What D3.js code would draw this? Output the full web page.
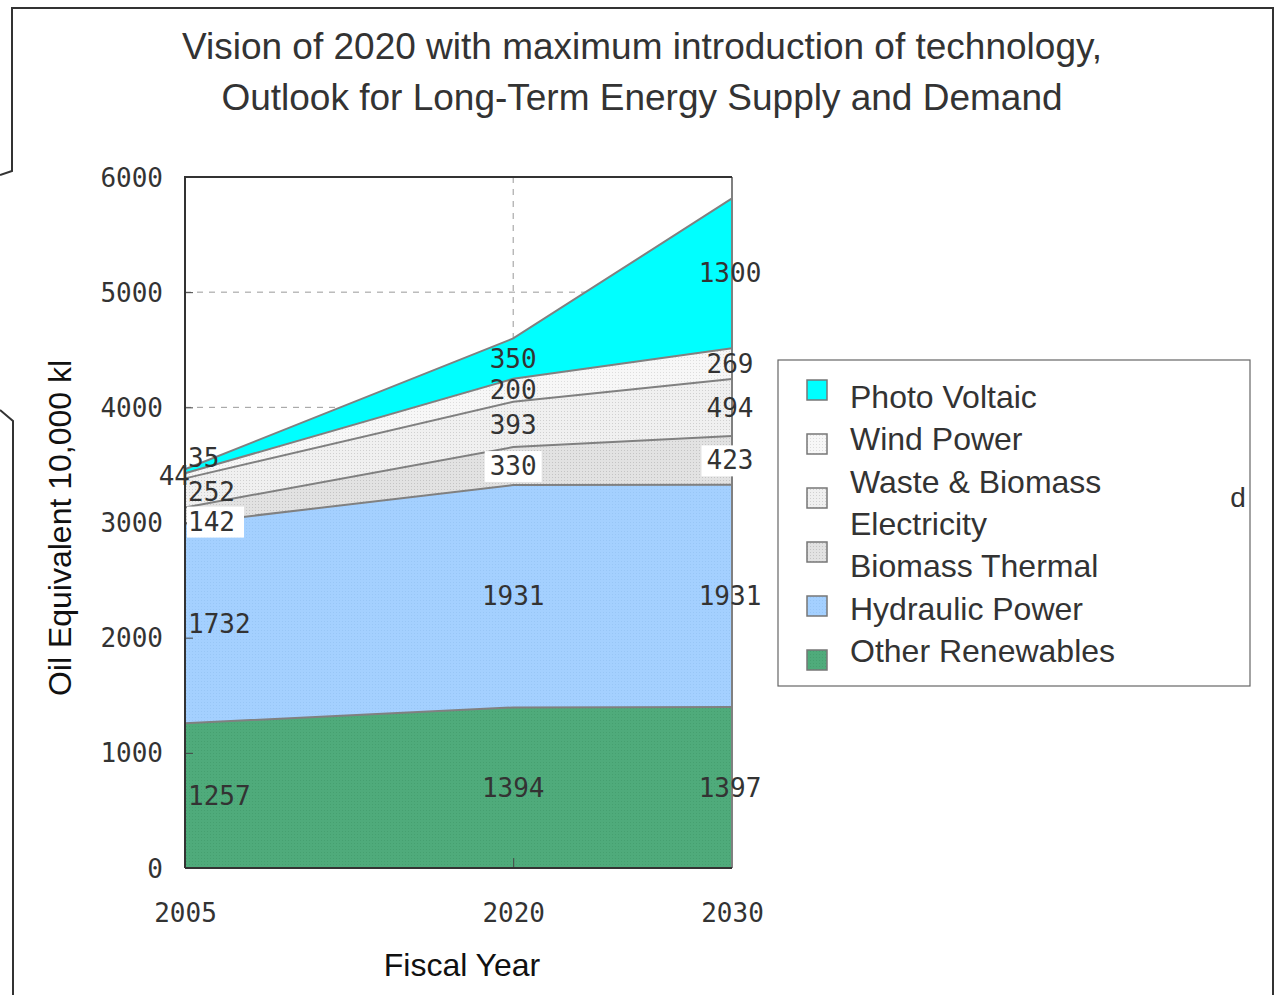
<!DOCTYPE html>
<html>
<head>
<meta charset="utf-8">
<script src="https://cdn.jsdelivr.net/npm/d3@7"></script>
<style>
  body { margin: 0; background: #fff; }
  svg { display: block; }
</style>
</head>
<body>
<svg id="chart" width="1276" height="995"></svg>
<script>
const years = [2005, 2020, 2030];
const seriesNames = ['Other Renewables', 'Hydraulic Power', 'Biomass Thermal', 'Waste & Biomass Electricity', 'Wind Power', 'Photo Voltaic'];
const otherRenewables = [1257, 1394, 1397];
const hydraulicPower = [1732, 1931, 1931];
const biomassThermal = [142, 330, 423];
const wasteBiomass = [252, 393, 494];
const windPower = [44, 200, 269];
const photoVoltaic = [35, 350, 1300];
const yTicks = [0, 1000, 2000, 3000, 4000, 5000, 6000];
const legendOrder = ['Photo Voltaic', 'Wind Power', 'Waste & Biomass Electricity', 'Biomass Thermal', 'Hydraulic Power', 'Other Renewables'];

const valuesByName = {
  'Other Renewables': otherRenewables,
  'Hydraulic Power': hydraulicPower,
  'Biomass Thermal': biomassThermal,
  'Waste & Biomass Electricity': wasteBiomass,
  'Wind Power': windPower,
  'Photo Voltaic': photoVoltaic,
};

const table = years.map((year, i) => {
  const row = { year };
  for (const name of seriesNames) row[name] = valuesByName[name][i];
  return row;
});

const svg = d3.select('#chart');
const defs = svg.append('defs');
const digitFont = '"DejaVu Sans Mono", monospace';
const textFont = '"Liberation Sans", Arial, sans-serif';

// dotted fills, roughly like the stippled areas of the original
function dotPattern(id, bg, dot) {
  const p = defs.append('pattern').attr('id', id)
    .attr('width', 3).attr('height', 3).attr('patternUnits', 'userSpaceOnUse');
  p.append('rect').attr('width', 3).attr('height', 3).attr('fill', bg);
  p.append('rect').attr('width', 1).attr('height', 1).attr('fill', dot);
  return `url(#${id})`;
}

const fill = {
  'Photo Voltaic': '#00ffff',
  'Wind Power': dotPattern('wind', '#f7f7f7', '#dddddd'),
  'Waste & Biomass Electricity': dotPattern('waste', '#f0f0f0', '#d0d0d0'),
  'Biomass Thermal': dotPattern('bioth', '#e2e2e2', '#c4c4c4'),
  'Hydraulic Power': dotPattern('hydro', '#a4d0ff', '#98c6f6'),
  'Other Renewables': dotPattern('other', '#4fab7b', '#46a070'),
};

const x = d3.scaleLinear().domain([2005, 2030]).range([185, 732]);
const y = d3.scaleLinear().domain([0, 6000]).range([868, 177]);

// outer frame
svg.append('path')
  .attr('d', 'M0,175L12,171L12,8L1273,8L1273,995')
  .attr('fill', 'none').attr('stroke', '#333').attr('stroke-width', 2);
svg.append('path')
  .attr('d', 'M0,410L13,421L13,995')
  .attr('fill', 'none').attr('stroke', '#333').attr('stroke-width', 2);

// title
svg.append('text')
  .attr('x', 642).attr('y', 59)
  .attr('text-anchor', 'middle')
  .style('font-family', textFont).style('font-size', '37px').style('fill', '#333')
  .selectAll('tspan')
  .data(['Vision of 2020 with maximum introduction of technology,', 'Outlook for Long-Term Energy Supply and Demand'])
  .join('tspan')
  .attr('x', 642)
  .attr('dy', (d, i) => i === 0 ? 0 : 51)
  .text(d => d);

// grid
const grid = svg.append('g');
grid.selectAll('line.h')
  .data(yTicks.filter(t => t > 0 && t < 6000))
  .join('line')
  .attr('x1', x(2005)).attr('x2', x(2030))
  .attr('y1', d => y(d)).attr('y2', d => y(d))
  .attr('stroke', '#999').attr('stroke-dasharray', '6,6');
grid.append('line')
  .attr('x1', x(2020)).attr('x2', x(2020))
  .attr('y1', y(6000)).attr('y2', y(0))
  .attr('stroke', '#999').attr('stroke-dasharray', '6,6');

// stacked areas
const stack = d3.stack().keys(seriesNames);
const layers = stack(table);

const area = d3.area()
  .x(d => x(d.data.year))
  .y0(d => y(d[0]))
  .y1(d => y(d[1]));

svg.append('g').selectAll('path')
  .data(layers)
  .join('path')
  .attr('d', area)
  .attr('fill', d => fill[d.key]);

svg.append('g').selectAll('path')
  .data(layers)
  .join('path')
  .attr('d', d3.line().x(d => x(d.data.year)).y(d => y(d[1])))
  .attr('fill', 'none')
  .attr('stroke', '#808080')
  .attr('stroke-width', 2);

// right edge of the stack
svg.append('line')
  .attr('x1', x(2030)).attr('x2', x(2030))
  .attr('y1', y(0)).attr('y2', y(6000))
  .attr('stroke', '#808080').attr('stroke-width', 2);

// axes
const yAxis = svg.append('g')
  .attr('transform', `translate(${x(2005)},0)`)
  .call(d3.axisLeft(y).tickValues(yTicks).tickFormat(d3.format('d')).tickSize(-8).tickPadding(22));
const xAxis = svg.append('g')
  .attr('transform', `translate(0,${y(0)})`)
  .call(d3.axisBottom(x).tickValues(years).tickFormat(d3.format('d')).tickSize(-10).tickPadding(36));

for (const ax of [yAxis, xAxis]) {
  ax.select('.domain').remove();
  ax.selectAll('.tick line').attr('stroke', '#444').attr('stroke-width', 1);
  ax.selectAll('.tick text')
    .style('font-family', digitFont).style('font-size', '26px').style('fill', '#333');
}
yAxis.selectAll('.tick text').attr('dy', '0.35em');
xAxis.selectAll('.tick line').filter(d => d !== 2020).remove();
yAxis.selectAll('.tick line').filter(d => d === 0 || d === 6000).remove();

// plot frame: left, top and bottom
svg.append('path')
  .attr('d', `M${x(2005)},${y(0)}V${y(6000)}H${x(2030)}`)
  .attr('fill', 'none').attr('stroke', '#333').attr('stroke-width', 2);
svg.append('line')
  .attr('x1', x(2005)).attr('x2', x(2030))
  .attr('y1', y(0)).attr('y2', y(0))
  .attr('stroke', '#333').attr('stroke-width', 2);

// value labels
const labels = svg.append('g')
  .style('font-family', digitFont).style('font-size', '26px').style('fill', '#333');

for (const layer of layers) {
  layer.forEach((d, i) => {
    const value = d.data[layer.key];
    let lx = x(d.data.year);
    let ly = y((d[0] + d[1]) / 2);
    let anchor = 'middle';
    if (i === 0) { lx = x(2005) + 3; anchor = 'start'; }
    if (i === 2) lx -= 2;
    if (i === 0 && layer.key === 'Photo Voltaic') ly -= 13;
    if (i === 0 && layer.key === 'Wind Power') { lx = x(2005) + 5; anchor = 'end'; }
    if (i === 0 && layer.key === 'Waste & Biomass Electricity') ly -= 1;
    if (i === 0 && layer.key === 'Biomass Thermal') ly += 6;
    if (layer.key === 'Biomass Thermal') {
      const w = 57;
      const rx = anchor === 'start' ? lx - 1 : lx - w / 2;
      labels.append('rect')
        .attr('x', rx).attr('y', ly - 15).attr('width', w).attr('height', 31)
        .attr('fill', '#fff');
    }
    labels.append('text')
      .attr('x', lx).attr('y', ly).attr('dy', '0.35em')
      .attr('text-anchor', anchor)
      .text(value);
  });
}

// axis titles
svg.append('text')
  .attr('transform', `translate(71,${528}) rotate(-90)`)
  .attr('text-anchor', 'middle')
  .style('font-family', textFont).style('font-size', '32px').style('fill', '#111')
  .text('Oil Equivalent 10,000 kl');
svg.append('text')
  .attr('x', 462).attr('y', 976)
  .attr('text-anchor', 'middle')
  .style('font-family', textFont).style('font-size', '32px').style('fill', '#111')
  .text('Fiscal Year');

// legend
const legend = svg.append('g');
legend.append('rect')
  .attr('x', 778).attr('y', 360).attr('width', 472).attr('height', 326)
  .attr('fill', '#fff').attr('stroke', '#666').attr('stroke-width', 1.2);

const legendText = d3.scalePoint().domain(d3.range(7)).range([408, 662]);
const legendSwatch = d3.scalePoint().domain(legendOrder).range([390, 660]);
const textLines = ['Photo Voltaic', 'Wind Power', 'Waste & Biomass', 'Electricity', 'Biomass Thermal', 'Hydraulic Power', 'Other Renewables'];

legend.selectAll('rect.sw')
  .data(legendOrder)
  .join('rect')
  .attr('class', 'sw')
  .attr('x', 807).attr('y', d => legendSwatch(d) - 10)
  .attr('width', 20).attr('height', 20)
  .attr('fill', d => fill[d])
  .attr('stroke', '#777').attr('stroke-width', 1.5);

legend.selectAll('text')
  .data(textLines)
  .join('text')
  .attr('x', 850).attr('y', (d, i) => legendText(i))
  .style('font-family', textFont).style('font-size', '32px').style('fill', '#333')
  .text(d => d);

svg.append('text')
  .attr('x', 1238).attr('y', 507)
  .attr('text-anchor', 'middle')
  .style('font-family', textFont).style('font-size', '28px').style('fill', '#333')
  .text('d');
</script>
</body>
</html>
